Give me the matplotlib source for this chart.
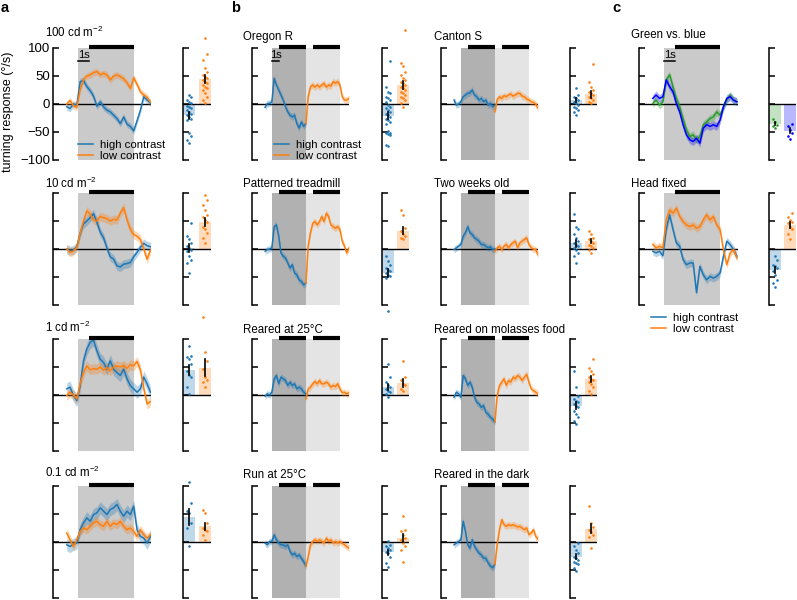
import numpy as np
import matplotlib.pyplot as plt

plt.rcParams['font.family'] = ['Liberation Sans', 'DejaVu Sans']

# ---------------- data ----------------
t_a = np.linspace(-1.0, 6.5, 26)          # panel a / c time (s)
t_b_hi = np.linspace(-0.9, 4.5, 19)       # panel b, high contrast epoch
t_b_lo = np.linspace(4.5, 10.2, 20)       # panel b, low contrast epoch

a_titles = ['100 cd m$^{\\mathregular{-2}}$', '10 cd m$^{\\mathregular{-2}}$',
            '1 cd m$^{\\mathregular{-2}}$', '0.1 cd m$^{\\mathregular{-2}}$']
a100_hi = [-5, -8, 0, -2, 40, 42, 31, 24, 14, -4, 4, -5, -11, -14, -20, -26, -35, -23, -36, -40, -48, -30, -11, 13, 7, 2]
a100_lo = [0, 6, -3, -6, 25, 44, 50, 52, 56, 58, 52, 55, 52, 43, 50, 52, 49, 45, 38, 28, 47, 35, 22, 16, 12, 3]
a10_hi = [0, -3, -2, 4, 28, 45, 50, 56, 63, 48, 30, 20, 2, -14, -18, -30, -32, -27, -26, -24, -14, -6, 3, 10, 6, 4]
a10_lo = [0, -6, -4, 3, 28, 50, 68, 62, 52, 50, 58, 56, 54, 50, 53, 52, 64, 74, 52, 35, 26, 23, 17, 0, -18, -2]
a1_hi = [11, 14, -1, -10, 17, 61, 82, 94, 98, 79, 64, 58, 46, 61, 46, 40, 35, 46, 29, 17, 11, 5, 11, 32, 20, 5]
a1_lo = [-1, 5, 0, -7, 20, 40, 52, 45, 47, 46, 50, 44, 49, 43, 50, 52, 50, 53, 48, 54, 52, 60, 45, 12, -16, -12]
a01_hi = [-5, -8, -4, -2, 22, 34, 43, 37, 49, 52, 61, 55, 49, 58, 61, 67, 55, 46, 55, 49, 64, 22, 10, 7, -2, 10]
a01_lo = [16, 4, -8, 4, 19, 25, 22, 28, 34, 37, 31, 28, 37, 28, 34, 31, 37, 28, 22, 25, 19, 10, 22, 13, 7, 13]
a_sem_hi = [6, 8, 11, 11]
a_sem_lo = [6, 8, 9, 8]

a100_hi_pts = [16, 13, 7, 4, 1, -4, -5, -8, -11, -14, -17, -20, -23, -26, -29, -52, -58, -64, -70]
a100_lo_pts = [117, 90, 79, 64, 58, 52, 49, 46, 43, 40, 37, 34, 31, 28, 25, 19, 13, 7, 1]
a10_hi_pts = [46, 23, 17, 11, 5, 2, -1, -4, -13, -19, -25, -43]
a10_lo_pts = [97, 88, 79, 70, 61, 58, 52, 49, 40, 35, 29, 20, 11]
a1_hi_pts = [88, 70, 67, 64, 55, 43, 35, 32, 14, 2]
a1_lo_pts = [139, 76, 61, 46, 32, 26, 23, 14]
a01_hi_pts = [108, 70, 55, 52, 34, 25, -8]
a01_lo_pts = [58, 52, 34, 25, 22, 19, 13, 4]
a_mean_hi = [-20, 2, 45, 45]
a_mean_lo = [45, 49, 49, 28]

b_titles = ['Oregon R', 'Patterned treadmill', 'Reared at 25°C', 'Run at 25°C',
            'Canton S', 'Two weeks old', 'Reared on molasses food', 'Reared in the dark']
ore_hi = [-6, 1, 1, 4, 46, 34, 25, 16, 7, -5, -14, -20, -23, -20, -35, -43, -32, -40, -35]
ore_lo = [-35, 13, 31, 34, 30, 34, 30, 34, 37, 30, 34, 32, 40, 37, 40, 34, 13, 7, 7, 10]
pat_hi = [-4, -1, 0, 2, 40, 43, 23, -7, -13, -16, -25, -34, -28, -43, -46, -55, -58, -64, -61]
pat_lo = [-61, 5, 29, 46, 49, 43, 49, 58, 49, 64, 58, 43, 40, 37, 40, 35, 14, 5, -7, 2]
r25_hi = [-2, 2, 0, 5, 29, 35, 20, 32, 29, 26, 17, 23, 17, 20, 11, 14, 11, 5, 2]
r25_lo = [-7, 11, 14, 20, 24, 20, 26, 20, 20, 23, 20, 14, 17, 15, 20, 11, 4, 5, 2, 4]
run_hi = [-2, -5, 1, 1, 13, 4, -2, -5, -5, -8, -5, -17, -23, -20, -26, -23, -29, -35, -43]
run_lo = [-43, -26, -5, 1, 4, 1, 4, 1, -2, 7, 1, 4, -2, 1, -2, 1, -2, -5, -8, -11]
can_hi = [7, -2, 0, 4, 13, 16, 19, 20, 25, 16, 13, 7, 10, 4, 7, -2, 1, -5, -2]
can_lo = [-14, 8, 13, 10, 15, 13, 16, 18, 14, 16, 19, 19, 14, 13, 9, 7, 4, 3, 0, -7]
two_hi = [-1, 2, 5, 8, 23, 29, 40, 29, 26, 20, 17, 14, 8, 8, 5, 2, 4, -1, 0]
two_lo = [-4, 2, 5, -1, 5, 8, 2, 8, 11, 14, 2, 11, 14, 17, 20, 8, 2, 0, -1, -10]
mol_hi = [-4, 5, 2, -4, 35, 29, 17, 23, 14, -4, -13, -16, -22, -19, -31, -34, -40, -43, -48]
mol_lo = [-48, -1, 17, 23, 29, 17, 26, 23, 32, 29, 35, 32, 26, 32, 37, 23, 11, 8, 5, 2]
drk_hi = [-5, -2, 1, 4, 37, 19, -5, -11, 4, -8, -14, -20, -23, -29, -29, -37, -43, -46, -40]
drk_lo = [-40, -5, 22, 40, 31, 28, 31, 29, 31, 29, 27, 28, 25, 22, 25, 13, 16, 22, 10, 5]

ore_hi_pts = [76, 30, 22, 19, 13, 10, 7, 4, -2, -5, -8, -11, -14, -17, -20, -23, -26, -29, -32, -35, -49, -51, -52, -54, -55, -73, -75]
ore_lo_pts = [133, 74, 68, 58, 52, 46, 43, 40, 37, 34, 31, 28, 25, 22, 19, 16, 13, 10, 7, 1, -5]
pat_hi_pts = [-13, -22, -28, -34, -37, -40, -43, -46, -49, -52, -110]
pat_lo_pts = [70, 61, 37, 32, 26, 23, 20, 17]
r25_hi_pts = [55, 32, 23, 17, 14, 11, 8, 5, 2, -4]
r25_lo_pts = [61, 32, 26, 20, 17, 11, 8]
run_hi_pts = [1, -5, -8, -11, -14, -17, -20, -26, -37, -45]
run_lo_pts = [46, 22, 19, 13, 7, 4, -2, -8, -14, -35]
can_hi_pts = [28, 16, 13, 10, 7, 4, 1, -2, -5, -8, -11, -14, -20]
can_lo_pts = [71, 40, 31, 25, 22, 19, 16, 13, 10, 7, 4, 1]
two_hi_pts = [62, 40, 35, 26, 20, 14, 11, 8, 5, 2, -1, -7, -13, -25]
two_lo_pts = [33, 26, 20, 17, 14, 11, 8, 5, 2, -1, -7]
mol_hi_pts = [43, 14, -1, -7, -10, -13, -16, -19, -22, -28, -34, -40, -46, -52]
mol_lo_pts = [64, 49, 43, 37, 32, 29, 26, 23, 20, 14, 8, 2]
drk_hi_pts = [-2, -8, -14, -20, -26, -29, -32, -35, -37, -40, -46, -52]
drk_lo_pts = [64, 34, 27, 22, 17, 13, 9, -11]
b_mean_hi = [-21, -43, 15, -18, 7, 10, -19, -26]
b_mean_lo = [34, 33, 21, 7, 17, 15, 29, 24]

c_titles = ['Green vs. blue', 'Head fixed']
gb_green = [1, 7, -2, 4, 43, 52, 31, 10, -5, -26, -46, -58, -55, -64, -58, -37, -32, -26, -23, -14, -20, -5, 7, 16, 7, 4]
gb_blue = [10, 16, 10, 13, 43, 31, 22, 1, -14, -37, -55, -64, -67, -61, -70, -43, -37, -40, -37, -40, -29, -5, 10, 13, 7, 4]
hf_hi = [-4, -7, -4, -12, 35, 61, 35, 11, 5, -19, -28, -25, -25, -78, -31, -46, -55, -49, -52, -49, -43, -13, 14, 8, -1, -13]
hf_lo = [8, 2, 5, 2, 52, 70, 64, 73, 58, 49, 43, 40, 43, 37, 40, 52, 61, 52, 58, 43, 35, -1, -28, -7, -1, -16]
gb_green_pts = [-26, -32, -37, -40, -43]
gb_blue_pts = [-36, -40, -46, -52, -58, -63]
hf_hi_pts = [-13, -19, -28, -31, -34, -40, -46, -55, -61, -67]
hf_lo_pts = [64, 58, 52, 49, 46, 40, 35, 26, 17]
c_mean_1 = [-35, -37]
c_mean_2 = [-48, 43]

BLUE, ORANGE = '#1f77b4', '#ff7f0e'
GREEN, PBLUE = '#2a9a2a', '#0000ff'

# ---------------- layout ----------------
W, H = 797, 600
fig = plt.figure(figsize=(W / 100, H / 100), dpi=100)
ROWS = [48, 193, 339, 486]
RH = 112


def px_axes(left, top, width, height=RH):
    return fig.add_axes([left / W, 1 - (top + height) / H, width / W, height / H])


def style(ax, labels=False):
    for s in ['top', 'right', 'bottom']:
        ax.spines[s].set_visible(False)
    ax.spines['left'].set_linewidth(1.1)
    ax.spines['left'].set_bounds(-100, 100)
    ax.set_ylim(-100, 100)
    ax.set_yticks([-100, -50, 0, 50, 100])
    ax.tick_params(axis='y', direction='in', length=4, width=1.1, labelsize=9.5, pad=2)
    ax.set_xticks([])
    if not labels:
        ax.set_yticklabels([])
    ax.patch.set_alpha(0)
    ax.axhline(0, color='k', lw=1, zorder=2.2)


def trace(ax, t, y, sem, color, label=None):
    y = np.asarray(y, float)
    ax.fill_between(t, y - sem, y + sem, color=color, alpha=0.3, lw=0, zorder=2.5)
    ln, = ax.plot(t, y, color=color, lw=1.1, zorder=3, label=label)
    return ln


def strip(ax, groups):
    style(ax)
    for i, (pts, m, c) in enumerate(groups):
        pts = np.asarray(pts, float)
        ax.bar(i, m, width=0.8, color=c, alpha=0.28, lw=0, zorder=1)
        order = np.argsort(pts)
        offs = np.zeros(len(pts))
        pattern = [0, -0.13, 0.13]
        for k, idx in enumerate(order):
            offs[idx] = pattern[k % 3]
        ax.scatter(i + offs, pts, s=3.5, color=c, lw=0, zorder=3, clip_on=False)
        sem = pts.std(ddof=1) / np.sqrt(len(pts))
        ax.plot([i, i], [m - sem, m + sem], color='k', lw=1.2, zorder=4)
    ax.set_xlim(-0.4, 1.4)


def stim_bar(ax, x0, x1):
    ax.plot([x0, x1], [102, 102], color='k', lw=3, solid_capstyle='butt', clip_on=False, zorder=5)


def scale_bar(ax):
    ax.plot([0, 1], [76, 76], color='k', lw=1.1, clip_on=False, zorder=5)
    ax.text(0.5, 79, '1s', ha='center', va='bottom', fontsize=8)


def title(x, y, s):
    fig.text(x / W, 1 - y / H, s, ha='left', va='baseline', fontsize=8.3)


LEG = dict(frameon=False, fontsize=8.2, handlelength=1.3, handletextpad=0.6,
           labelspacing=0.1, borderpad=0, borderaxespad=0, loc='upper left')

# ---------------- panel a ----------------
a_hi = [a100_hi, a10_hi, a1_hi, a01_hi]
a_lo = [a100_lo, a10_lo, a1_lo, a01_lo]
a_hi_pts = [a100_hi_pts, a10_hi_pts, a1_hi_pts, a01_hi_pts]
a_lo_pts = [a100_lo_pts, a10_lo_pts, a1_lo_pts, a01_lo_pts]
a_title_y = [37, 188, 332, 477]
for r in range(4):
    ax = px_axes(53, ROWS[r], 98)
    style(ax, labels=(r == 0))
    ax.set_xlim(-2.23, 6.55)
    ax.axvspan(0, 5, color='#cacaca', lw=0, zorder=1)
    stim_bar(ax, 1, 5)
    l1 = trace(ax, t_a, a_hi[r], a_sem_hi[r], BLUE, 'high contrast')
    l2 = trace(ax, t_a, a_lo[r], a_sem_lo[r], ORANGE, 'low contrast')
    if r == 0:
        scale_bar(ax)
        ax.legend(handles=[l1, l2], bbox_to_anchor=(0.26, 0.18), **LEG)
    title(45, a_title_y[r], a_titles[r])
    bx = px_axes(183, ROWS[r], 28)
    strip(bx, [(a_hi_pts[r], a_mean_hi[r], BLUE), (a_lo_pts[r], a_mean_lo[r], ORANGE)])

# ---------------- panel b ----------------
b_hi = [ore_hi, pat_hi, r25_hi, run_hi, can_hi, two_hi, mol_hi, drk_hi]
b_lo = [ore_lo, pat_lo, r25_lo, run_lo, can_lo, two_lo, mol_lo, drk_lo]
b_hi_pts = [ore_hi_pts, pat_hi_pts, r25_hi_pts, run_hi_pts, can_hi_pts, two_hi_pts, mol_hi_pts, drk_hi_pts]
b_lo_pts = [ore_lo_pts, pat_lo_pts, r25_lo_pts, run_lo_pts, can_lo_pts, two_lo_pts, mol_lo_pts, drk_lo_pts]
b_title_y = [40, 187, 333, 478]
for k in range(8):
    col, r = divmod(k, 4)
    tl, bl, tx = [(252, 382, 243), (441, 570, 434)][col]
    ax = px_axes(tl, ROWS[r], 97)
    style(ax)
    ax.set_xlim(-2.63, 10.2)
    ax.axvspan(0, 4.5, color='#b1b1b1', lw=0, zorder=1)
    ax.axvspan(4.5, 8.95, color='#e4e4e4', lw=0, zorder=1)
    stim_bar(ax, 0.9, 4.5)
    stim_bar(ax, 5.4, 8.95)
    l1 = trace(ax, t_b_hi, b_hi[k], 6, BLUE, 'high contrast')
    l2 = trace(ax, t_b_lo, b_lo[k], 6, ORANGE, 'low contrast')
    if k == 0:
        scale_bar(ax)
        ax.legend(handles=[l1, l2], bbox_to_anchor=(0.23, 0.18), **LEG)
    title(tx, b_title_y[r], b_titles[k])
    bx = px_axes(bl, ROWS[r], 27)
    strip(bx, [(b_hi_pts[k], b_mean_hi[k], BLUE), (b_lo_pts[k], b_mean_lo[k], ORANGE)])

# ---------------- panel c ----------------
c_a = [gb_green, hf_hi]
c_b = [gb_blue, hf_lo]
c_cols = [(GREEN, PBLUE), (BLUE, ORANGE)]
c_pts1 = [gb_green_pts, hf_hi_pts]
c_pts2 = [gb_blue_pts, hf_lo_pts]
c_title_y = [38, 187]
for r in range(2):
    ax = px_axes(639, ROWS[r], 99)
    style(ax)
    ax.set_xlim(-2.23, 6.6)
    ax.axvspan(0, 5, color='#cacaca', lw=0, zorder=1)
    stim_bar(ax, 1, 5)
    ca, cb = c_cols[r]
    l1 = trace(ax, t_a, c_a[r], 7, ca, 'high contrast')
    l2 = trace(ax, t_a, c_b[r], 7, cb, 'low contrast')
    if r == 0:
        scale_bar(ax)
    else:
        ax.legend(handles=[l1, l2], bbox_to_anchor=(0.12, -0.07), **LEG)
    title(631, c_title_y[r], c_titles[r])
    bx = px_axes(769, ROWS[r], 27)
    strip(bx, [(c_pts1[r], c_mean_1[r], ca), (c_pts2[r], c_mean_2[r], cb)])

# labels
fig.text(8 / W, 1 - 112 / H, 'turning response (°/s)', rotation=90, ha='center', va='center', fontsize=9)
for x, s in [(1, 'a'), (231, 'b'), (612, 'c')]:
    fig.text(x / W, 1 - 12 / H, s, fontsize=10.5, fontweight='bold', va='baseline')

fig.savefig('out.png', dpi=100)
